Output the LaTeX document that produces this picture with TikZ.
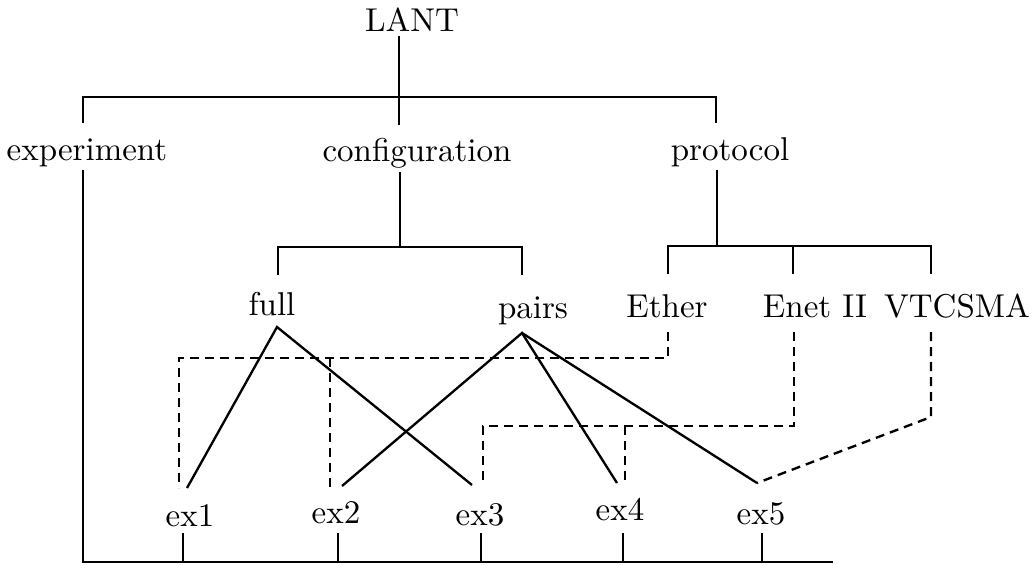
\documentclass[tikz,border=0pt]{standalone}
\usetikzlibrary{calc}
\begin{document}
\begin{tikzpicture}[x=0.3pt,y=-0.3pt,
  lbl/.style={inner sep=0pt, anchor=base, font=\fontsize{9.9}{12}\selectfont},
  tree/.style={line width=0.6pt},
  link/.style={line width=0.7pt},
  xref/.style={line width=0.7pt, dash pattern=on 2.7pt off 1.8pt}]
\useasboundingbox (0,0) rectangle (1036,564);

% labels
\node[lbl] (lant)  at (412,32)  {LANT};
\node[lbl] (exp)   at (87,160)  {experiment};
\node[lbl] (conf)  at (417,161) {configuration};
\node[lbl] (prot)  at (730,160) {protocol};
\node[lbl] (full)  at (272,315) {full};
\node[lbl] (pairs) at (533,318) {pairs};
\node[lbl] (ether) at (667,317) {Ether};
\node[lbl] (enet)  at (815,317) {Enet II};
\node[lbl] (vt)    at (957,317) {VTCSMA};
\node[lbl] (ex1)   at (190,526) {ex1};
\node[lbl] (ex2)   at (336,523) {ex2};
\node[lbl] (ex3)   at (480,525) {ex3};
\node[lbl] (ex4)   at (620,520) {ex4};
\node[lbl] (ex5)   at (761,524) {ex5};

% attachment points of the tree lines
\coordinate (lant-s)  at (399,36);
\coordinate (top)     at (399,97);
\coordinate (exp-n)   at (83,123);
\coordinate (conf-n)  at (399,125);
\coordinate (prot-n)  at (716,123);
\coordinate (exp-s)   at (83,170);
\coordinate (conf-s)  at (400,172);
\coordinate (prot-s)  at (717,170);
\coordinate (cbar)    at (400,247);
\coordinate (pbar)    at (717,246);
\coordinate (full-n)  at (278,275);
\coordinate (pairs-n) at (522,275);
\coordinate (ether-n) at (668,274);
\coordinate (enet-n)  at (793,274);
\coordinate (vt-n)    at (931,274);
\coordinate (base-r)  at (833,562);
\coordinate (t1) at (183,533);
\coordinate (t2) at (338,533);
\coordinate (t3) at (481,533);
\coordinate (t4) at (623,533);
\coordinate (t5) at (762,533);

% upper tree
\draw[tree] (lant-s) -- (conf-n);
\draw[tree] (exp-n) -- (exp-n |- top) -- (prot-n |- top) -- (prot-n);
\draw[tree] (exp-s) |- (base-r);
\draw[tree] (conf-s) -- (cbar);
\draw[tree] (full-n) -- (full-n |- cbar) -- (pairs-n |- cbar) -- (pairs-n);
\draw[tree] (prot-s) -- (pbar);
\draw[tree] (ether-n) -- (ether-n |- pbar) -- (vt-n |- pbar) -- (vt-n);
\draw[tree] (enet-n) -- (enet-n |- pbar);

% ticks on the base line
\foreach \t in {t1,t2,t3,t4,t5}
  \draw[tree] (\t) -- (\t |- base-r);

% configuration links
\coordinate (full-s)  at (277,327);
\coordinate (pairs-s) at (522,333);
\coordinate (e1a) at (187,488);
\coordinate (e3a) at (472,485);
\coordinate (e2a) at (342,486);
\coordinate (e4a) at (617,483);
\coordinate (e5a) at (757,483);
\draw[link] (e1a) -- (full-s) -- (e3a);
\draw[link] (e2a) -- (pairs-s) -- (e4a);
\draw[link] (pairs-s) -- (e5a);

% protocol links
\coordinate (ether-s) at (668,332);
\coordinate (enet-s)  at (794,332);
\coordinate (vt-s)    at (931,332);
\coordinate (e1b) at (179,488);
\coordinate (e2b) at (330,487);
\coordinate (e3b) at (483,485);
\coordinate (e4b) at (625,482);
\coordinate (ethy) at (668,358);
\coordinate (enety) at (794,426);
\draw[xref] (ether-s) -- (ethy) -- (e1b |- ethy) -- (e1b);
\draw[xref] (e2b |- ethy) -- (e2b);
\draw[xref] (enet-s) -- (enety) -- (e3b |- enety) -- (e3b);
\draw[xref] (e4b |- enety) -- (e4b);
\draw[xref] (vt-s) -- (931,417) -- (e5a);
\end{tikzpicture}
\end{document}
